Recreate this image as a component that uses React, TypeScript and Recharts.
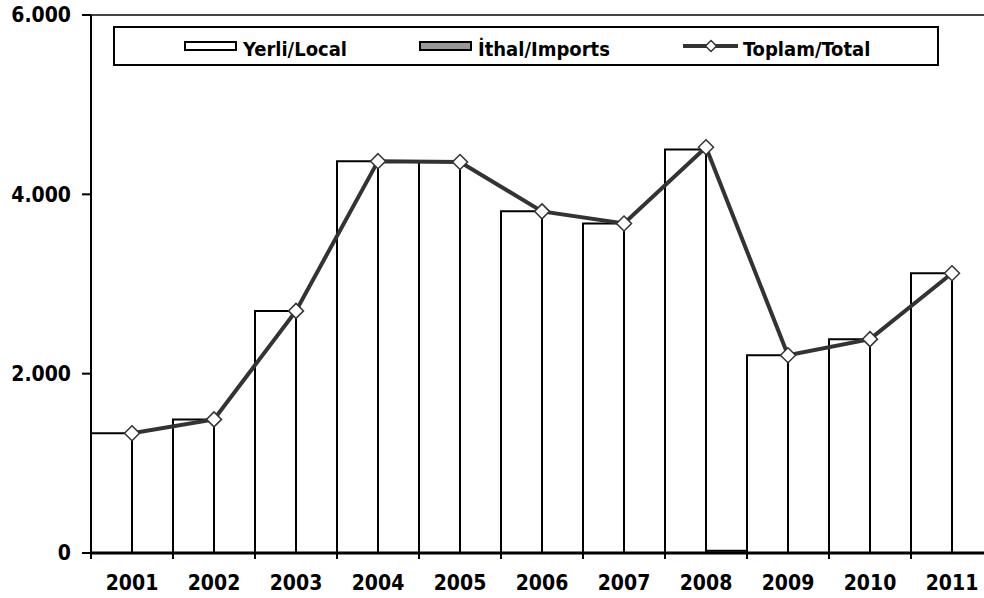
import React from 'react';
import { ComposedChart, Bar, Line, XAxis, YAxis, ReferenceLine } from 'recharts';

const years = ['2001', '2002', '2003', '2004', '2005', '2006', '2007', '2008', '2009', '2010', '2011'];
const localValues = [1335, 1490, 2700, 4370, 4360, 3810, 3675, 4500, 2205, 2385, 3120];
const importValues = [0, 0, 0, 0, 0, 0, 0, 25, 0, 0, 0];
const totalValues = [1335, 1490, 2700, 4370, 4360, 3810, 3675, 4525, 2205, 2385, 3120];
const yTicks = [0, 2000, 4000, 6000];
const legendLabels = ['Yerli/Local', 'İthal/Imports', 'Toplam/Total'];

const data = years.map((y, i) => ({
  year: y,
  local: localValues[i],
  imports: importValues[i],
  total: totalValues[i],
}));

const FONT = "'DejaVu Sans Condensed', 'DejaVu Sans', sans-serif";

const fmt = (v: number) => (v === 0 ? '0' : `${Math.round(v / 1000)}.000`);

const XTick = (props: any) => {
  const { x, y, payload } = props;
  return (
    <g>
      <line x1={x - 41} x2={x - 41} y1={y} y2={y + 6} stroke="#000" strokeWidth={2} />
      <text x={x} y={y + 37} textAnchor="middle" fontFamily={FONT} fontWeight="bold" fontSize={21} fill="#000">
        {payload.value}
      </text>
    </g>
  );
};

const Diamond = (props: any) => {
  const { cx, cy } = props;
  if (cx == null || cy == null) return null;
  const r = 7.5;
  return (
    <path
      d={`M${cx},${cy - r} L${cx + r},${cy} L${cx},${cy + r} L${cx - r},${cy} Z`}
      fill="#fff"
      stroke="#333"
      strokeWidth={1.5}
    />
  );
};

export default function App() {
  return (
    <div style={{ position: 'fixed', left: 0, top: 0, width: 984, height: 598, overflow: 'hidden', background: '#fff' }}>
      <ComposedChart
        width={993}
        height={598}
        data={data}
        margin={{ top: 15, right: 0, bottom: 0, left: 0 }}
        barCategoryGap={0}
        barGap={0}
      >
        <XAxis
          dataKey="year"
          height={45}
          tickLine={false}
          tickSize={0}
          tickMargin={0}
          axisLine={{ stroke: '#000', strokeWidth: 3 }}
          tick={<XTick />}
          interval={0}
        />
        <YAxis
          width={91}
          domain={[0, 6000]}
          ticks={yTicks}
          tickFormatter={fmt}
          tickSize={9}
          tickMargin={11}
          tickLine={{ stroke: '#000', strokeWidth: 2 }}
          axisLine={{ stroke: '#000', strokeWidth: 2 }}
          tick={{ fontFamily: FONT, fontWeight: 'bold', fontSize: 21, fill: '#000' }}
          interval={0}
        />
        <ReferenceLine y={6000} stroke="#444" strokeWidth={2} />
        <Bar dataKey="local" fill="#fff" stroke="#000" strokeWidth={2} isAnimationActive={false} />
        <Bar dataKey="imports" fill="#999" stroke="#000" strokeWidth={2} isAnimationActive={false} />
        <Line
          type="linear"
          dataKey="total"
          stroke="#333"
          strokeWidth={4}
          dot={<Diamond />}
          activeDot={false}
          isAnimationActive={false}
        />
      </ComposedChart>
      <svg
        width={984}
        height={598}
        style={{ position: 'absolute', left: 0, top: 0, pointerEvents: 'none' }}
      >
        <rect x={114} y={27} width={824} height={38} fill="#fff" stroke="#000" strokeWidth={2} />
        <rect x={185} y={42} width={51} height={8} fill="#fff" stroke="#000" strokeWidth={2} />
        <text x={243} y={56} fontFamily={FONT} fontWeight="bold" fontSize={20} fill="#000">
          {legendLabels[0]}
        </text>
        <rect x={420} y={42} width={51} height={8} fill="#999" stroke="#000" strokeWidth={2} />
        <text x={478} y={56} fontFamily={FONT} fontWeight="bold" fontSize={20} fill="#000">
          {legendLabels[1]}
        </text>
        <line x1={683} x2={738} y1={46} y2={46} stroke="#333" strokeWidth={4} />
        <path d="M711,40.5 L716.5,46 L711,51.5 L705.5,46 Z" fill="#fff" stroke="#333" strokeWidth={1.5} />
        <text x={743} y={56} fontFamily={FONT} fontWeight="bold" fontSize={20} fill="#000">
          {legendLabels[2]}
        </text>
      </svg>
    </div>
  );
}
